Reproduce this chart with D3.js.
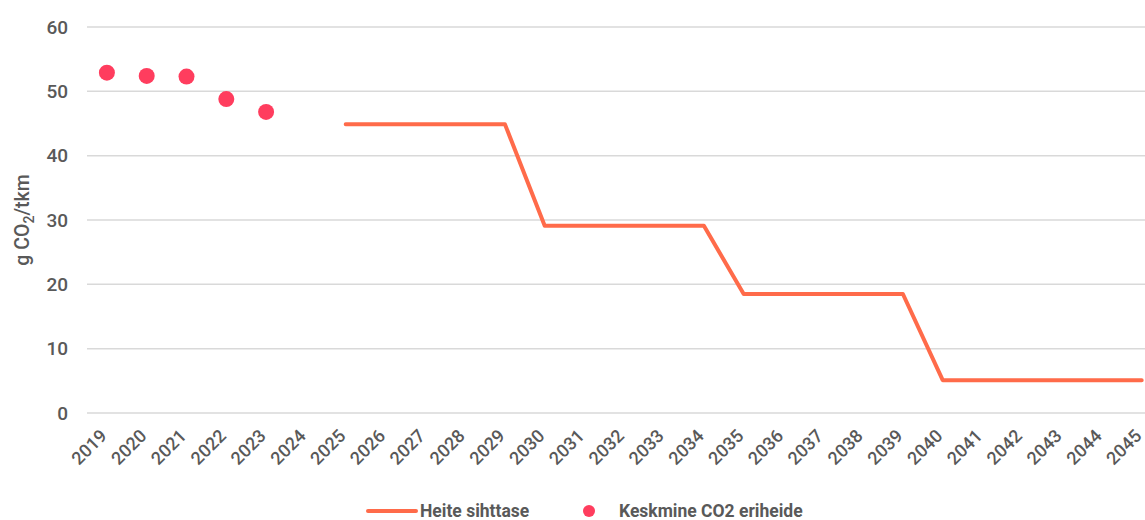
<!DOCTYPE html>
<html>
<head>
<meta charset="utf-8">
<script src="https://cdn.jsdelivr.net/npm/d3@7"></script>
<style>
  body { margin: 0; background: #fff; }
  svg text { font-family: Roboto, "DejaVu Sans", sans-serif; fill: #595959; }
</style>
</head>
<body>
<svg id="chart" width="1145" height="520"></svg>
<script>
// categories
var years = d3.range(2019, 2046).map(String);

// average CO2 emission per year (dots)
var avgYears = ["2019", "2020", "2021", "2022", "2023"];
var avgValues = [52.9, 52.4, 52.3, 48.8, 46.8];

// target level (line)
var targetYears = ["2025", "2026", "2027", "2028", "2029", "2030", "2031", "2032", "2033", "2034",
  "2035", "2036", "2037", "2038", "2039", "2040", "2041", "2042", "2043", "2044", "2045"];
var targetValues = [44.9, 44.9, 44.9, 44.9, 44.9, 29.1, 29.1, 29.1, 29.1, 29.1,
  18.5, 18.5, 18.5, 18.5, 18.5, 5.1, 5.1, 5.1, 5.1, 5.1, 5.1];

var yTicks = [0, 10, 20, 30, 40, 50, 60];

var lineColor = "#ff6b4a",
    dotColor = "#ff3d5e";

var svg = d3.select("#chart");

var x = d3.scaleBand().domain(years).range([87, 87 + 27 * 39.8]);
var y = d3.scaleLinear().domain([0, 60]).range([413, 27]);
var cx = function(d) { return x(d) + x.bandwidth() / 2; };

// Gridlines
svg.append("g").selectAll("line")
  .data(yTicks)
  .join("line")
  .attr("x1", 87).attr("x2", 1145)
  .attr("y1", function(d) { return y(d); })
  .attr("y2", function(d) { return y(d); })
  .attr("stroke", "#d9d9d9")
  .attr("stroke-width", 1.5);

// Y axis labels
var yAxis = svg.append("g")
  .attr("transform", "translate(76,0)")
  .call(d3.axisLeft(y).tickValues(yTicks).tickSize(0).tickPadding(8));
yAxis.select(".domain").remove();
yAxis.selectAll("text")
  .style("font-family", "Roboto, sans-serif")
  .style("font-size", "19px")
  .style("font-weight", "500")
  .attr("fill", "#595959");

// X axis labels
var xAxis = svg.append("g")
  .attr("transform", "translate(0,413)")
  .call(d3.axisBottom(x).tickSize(0).tickPadding(0));
xAxis.select(".domain").remove();
xAxis.selectAll("text")
  .style("font-family", "Roboto, sans-serif")
  .style("font-size", "18px")
  .style("font-weight", "500")
  .attr("fill", "#595959")
  .attr("text-anchor", "end")
  .attr("dy", "0")
  .attr("transform", "translate(1,24) rotate(-45)");

// Y axis title
var title = svg.append("text")
  .attr("transform", "translate(29,220) rotate(-90)")
  .attr("text-anchor", "middle")
  .style("font-family", "Roboto, sans-serif")
  .style("font-size", "19.5px")
  .style("font-weight", "500");
title.append("tspan").text("g CO");
title.append("tspan").attr("dy", 5).style("font-size", "14px").text("2");
title.append("tspan").attr("dy", -5).text("/tkm");

// Target line
var line = d3.line()
  .x(function(d, i) { return cx(targetYears[i]); })
  .y(function(d) { return y(d); });

svg.append("path")
  .datum(targetValues)
  .attr("d", line)
  .attr("fill", "none")
  .attr("stroke", lineColor)
  .attr("stroke-width", 4)
  .attr("stroke-linejoin", "round")
  .attr("stroke-linecap", "round");

// Average dots
svg.append("g").selectAll("circle")
  .data(avgValues)
  .join("circle")
  .attr("cx", function(d, i) { return cx(avgYears[i]); })
  .attr("cy", function(d) { return y(d); })
  .attr("r", 8)
  .attr("fill", dotColor);

// Legend
var legend = svg.append("g").attr("transform", "translate(0,511)");
legend.append("line")
  .attr("x1", 368).attr("x2", 416)
  .attr("y1", 0).attr("y2", 0)
  .attr("stroke", lineColor)
  .attr("stroke-width", 4)
  .attr("stroke-linecap", "round");
legend.append("text")
  .attr("x", 420).attr("y", 6)
  .style("font-size", "17.5px")
  .style("font-weight", "bold")
  .text("Heite sihttase");
legend.append("circle")
  .attr("cx", 589).attr("cy", 0).attr("r", 6)
  .attr("fill", dotColor);
legend.append("text")
  .attr("x", 619).attr("y", 6)
  .style("font-size", "17.5px")
  .style("font-weight", "bold")
  .text("Keskmine CO2 eriheide");
</script>
</body>
</html>
